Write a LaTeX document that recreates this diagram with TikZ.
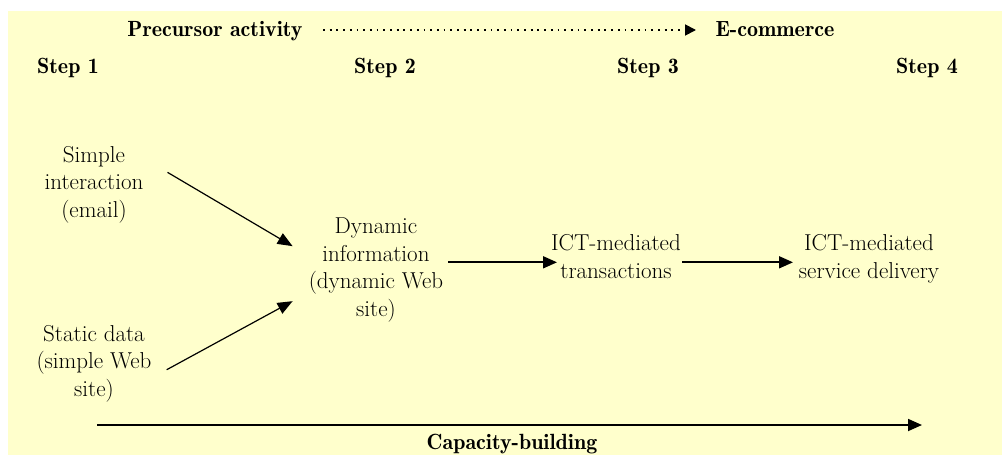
\documentclass[tikz,border=0pt]{standalone}
\usepackage{fontspec}
\newfontface\headface{lmromandemi10-regular.otf}
\usetikzlibrary{arrows.meta}
\definecolor{paper}{HTML}{FFFFCC}
\begin{document}
\begin{tikzpicture}[x=1pt,y=-1pt,
  lbl/.style={inner sep=0pt, align=center, anchor=base,
    font=\fontsize{23}{27.5}\selectfont},
  head/.style={inner sep=0pt, anchor=base,
    font=\headface\fontsize{22}{27.5}\selectfont},
  arr/.style={-{Triangle[length=14pt,width=12pt]}, line width=1.8pt},
  diag/.style={-{Triangle[length=15pt,width=12pt]}, line width=1.2pt},
  dots/.style={-{Triangle[length=11pt,width=11pt]}, line width=1.8pt,
    dash pattern=on 1.8pt off 4.9pt}]
\useasboundingbox (0,0) rectangle (1002,455);
\fill[paper] (8,11) rectangle (1002,455);

% header row
\node[head] (prec) at (215,36) {Precursor activity};
\node[head] (ecom) at (775,36) {E-commerce};
\draw[dots] ([shift={(108,-6)}]prec.base) -- ([shift={(-79,-6)}]ecom.base);

\node[head] (s1) at (68,73)  {Step 1};
\node[head] (s2) at (385,73) {Step 2};
\node[head] (s3) at (648,73) {Step 3};
\node[head] (s4) at (927,73) {Step 4};

% stages (base anchor = baseline of the last line)
\node[lbl] (simple) at (94,217)  {Simple\\interaction\\(email)};
\node[lbl] (static) at (94,396)  {Static data\\(simple Web\\site)};
\node[lbl] (dyn)    at (376,316) {Dynamic\\information\\(dynamic Web\\site)};
\node[lbl] (ict1)   at (616,278) {ICT-mediated\\transactions};
\node[lbl] (ict2)   at (869,278) {ICT-mediated\\service delivery};

% capacity line
\node[head] (cap) at (512,449) {Capacity-building};

\draw[diag] ([shift={(24,-12)}]simple.east) -- ([shift={(-16,-23.6)}]dyn.west);
\draw[diag] ([shift={(15,6.4)}]static.east) -- ([shift={(-16,31.4)}]dyn.west);
\draw[arr] ([shift={(5,6)}]dyn.east |- ict1.center) -- ([shift={(-59,6)}]ict1.center);
\draw[arr] ([shift={(66,6)}]ict1.center) -- ([shift={(-76,6)}]ict2.center |- ict1.center);
\draw[arr] ([shift={(-415,-24)}]cap.base) -- ([shift={(410,-24)}]cap.base);
\end{tikzpicture}
\end{document}
